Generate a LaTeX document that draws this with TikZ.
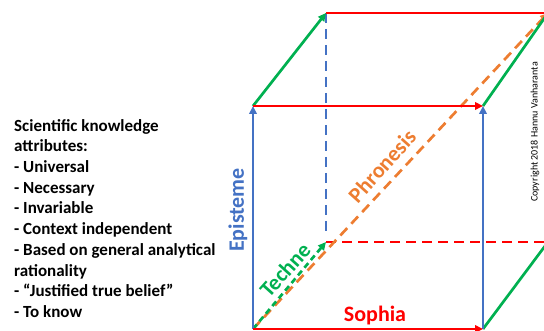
\documentclass[tikz,border=0pt]{standalone}
\usepackage{fontspec}
\setmainfont{Carlito}
\usetikzlibrary{arrows.meta}
\definecolor{epiblue}{RGB}{68,114,196}
\definecolor{sophred}{RGB}{255,0,0}
\definecolor{techgreen}{RGB}{0,176,80}
\definecolor{phronorange}{RGB}{237,125,49}
\tikzset{
  edge/.style={line width=2.7pt},
  tip/.style={-{Triangle[length=8pt,width=7.5pt]}},
  hiddenedge/.style={dash pattern=on 10pt off 6pt},
  lbl/.style={font=\fontsize{22}{26}\selectfont\bfseries, inner sep=0pt},
}
\begin{document}
\begin{tikzpicture}[x=1pt,y=-1pt]
\useasboundingbox (0,0) rectangle (544,331);
\clip (0,0) rectangle (544,331);
% cube corners
\coordinate (A) at (253,329);  % front bottom left
\coordinate (B) at (483,329);  % front bottom right
\coordinate (C) at (483,106);  % front top right
\coordinate (D) at (253,106);  % front top left
\coordinate (E) at (326,242);  % back bottom left
\coordinate (F) at (548,242);  % back bottom right
\coordinate (G) at (548,13);   % back top right
\coordinate (H) at (326,13);   % back top left
\coordinate (Hd) at (326,236);
% hidden edges
\draw[edge, hiddenedge, epiblue] (H) -- (Hd);
\draw[edge, hiddenedge, sophred] (E) -- (F);
\draw[edge, hiddenedge, phronorange, tip] (A) -- (G);
\draw[edge, dash pattern=on 6pt off 4pt, techgreen, tip] (A) -- (E);
% visible edges
\draw[edge, sophred] (H) -- (G);
\draw[edge, techgreen] (C) -- (G);
\draw[edge, techgreen] (B) -- (F);
\draw[edge, techgreen, tip] (D) -- (H);
\draw[edge, epiblue, tip] (A) -- (D);
\draw[edge, epiblue, tip] (B) -- (C);
\draw[edge, sophred, tip] (D) -- (C);
\draw[edge, sophred, tip] (A) -- (B);
% labels
\node[lbl, text=epiblue, rotate=90] (episteme) at (238,210) {Episteme};
\node[lbl, text=sophred] (sophia) at (375,316) {Sophia};
\node[lbl, text=phronorange, rotate=48] (phronesis) at (382,166) {Phronesis};
\node[lbl, text=techgreen, rotate=48] (techne) at (285,270) {Techne};
\node[inner sep=0pt, rotate=90, font=\fontsize{10}{12}\selectfont] (copy) at (535,132) {Copyright 2018 Hannu Vanharanta};
% attribute list
\node[anchor=north west, inner sep=0pt, align=left,
      font=\fontsize{17}{20.7}\selectfont\bfseries] (attrs) at (14,119) {%
Scientific knowledge\\
attributes:\\
- Universal\\
- Necessary\\
- Invariable\\
- Context independent\\
- Based on general analytical\\
rationality\\
- “Justified true belief”\\
- To know};
\end{tikzpicture}
\end{document}
